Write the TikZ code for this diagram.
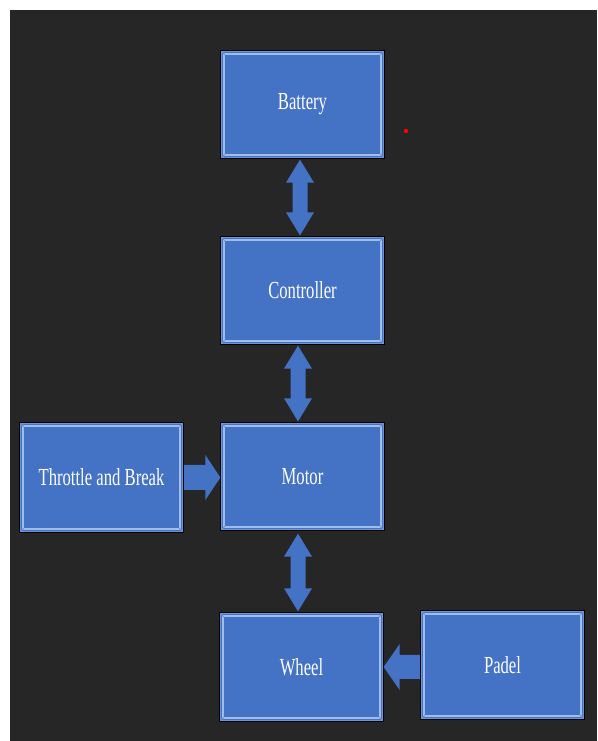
\documentclass[tikz,border=0pt]{standalone}
\usepackage{fontspec}
\newfontfamily\boxfont{Liberation Serif}[FakeStretch=0.68]
\usetikzlibrary{calc}
\definecolor{bgdark}{HTML}{262626}
\definecolor{boxblue}{HTML}{4472C4}
\definecolor{bevel}{HTML}{A9C8F0}
\definecolor{bevelmid}{HTML}{6F93D6}
\tikzset{
  blockbox/.style={rectangle, fill=boxblue, draw=black, line width=1.3pt,
    minimum width=163pt, minimum height=107pt, inner sep=0pt,
    text=white, font=\boxfont\fontsize{24.5}{28}\selectfont},
  bevelline/.style={draw=bevel, line width=2pt, opacity=0.9},
  bevelband/.style={draw=bevelmid, line width=1.2pt},
  arrowfill/.style={fill=boxblue}
}
\begin{document}
\begin{tikzpicture}[x=1pt,y=1pt]
\useasboundingbox (0,0) rectangle (597,741);
\fill[white] (0,0) rectangle (597,741);
\fill[bgdark] (10,0) rectangle (597,731);

\node[blockbox] (bat) at (302.5,636.5) {\phantom{B}};
\node[blockbox] (ctl) at (302.5,450.5) {\phantom{C}};
\node[blockbox] (mot) at (302.5,264.5) {\phantom{M}};
\node[blockbox, minimum height=109pt] (thr) at (101.5,263.5) {\phantom{T}};
\node[blockbox, minimum height=108pt] (whl) at (301.5,74) {\phantom{W}};
\node[blockbox, minimum height=108pt] (pad) at (502.5,76) {\phantom{P}};

\foreach \n in {bat,ctl,mot,thr,whl,pad}{
  \draw[bevelband] ($(\n.south west)+(1.2,1.2)$) rectangle ($(\n.north east)+(-1.2,-1.2)$);
  \draw[bevelline] ($(\n.south west)+(3.5,3.5)$) rectangle ($(\n.north east)+(-3.5,-3.5)$);
  \draw[bevelmid, line width=0.8pt] ($(\n.south west)+(0.8,0.8)$) -- ($(\n.south west)+(4.5,4.5)$);
  \draw[bevelmid, line width=0.8pt] ($(\n.south east)+(-0.8,0.8)$) -- ($(\n.south east)+(-4.5,4.5)$);
  \draw[bevelmid, line width=0.8pt] ($(\n.north west)+(0.8,-0.8)$) -- ($(\n.north west)+(4.5,-4.5)$);
  \draw[bevelmid, line width=0.8pt] ($(\n.north east)+(-0.8,-0.8)$) -- ($(\n.north east)+(-4.5,-4.5)$);
}

\node[text=white, font=\boxfont\fontsize{24.5}{28}\selectfont] (batt) at (bat.center) {Battery};
\node[text=white, font=\boxfont\fontsize{24.5}{28}\selectfont] (ctlt) at (ctl.center) {Controller};
\node[text=white, font=\boxfont\fontsize{24.5}{28}\selectfont] (mott) at (mot.center) {Motor};
\node[text=white, font=\boxfont\fontsize{24.5}{28}\selectfont] (thrt) at (thr.center) {Throttle and Break};
\node[text=white, font=\boxfont\fontsize{24.5}{28}\selectfont] (whlt) at (whl.center) {Wheel};
\node[text=white, font=\boxfont\fontsize{24.5}{28}\selectfont] (padt) at (pad.center) {Padel};

\coordinate (dot) at (406,610);
\fill[red] (dot) circle (2.2pt);

% vertical double arrows
\fill[arrowfill] let \p1=($(bat.south)+(-2.5,-1)$), \p2=($(ctl.north)+(-2.5,1)$) in
  (\x1,\y1) -- (\x1+14,\y1-23) -- (\x1+7.5,\y1-23) -- (\x1+7.5,\y2+23) -- (\x1+14,\y2+23)
  -- (\x1,\y2) -- (\x1-14,\y2+23) -- (\x1-7.5,\y2+23) -- (\x1-7.5,\y1-23) -- (\x1-14,\y1-23) -- cycle;
\fill[arrowfill] let \p1=($(ctl.south)+(-4.5,-1)$), \p2=($(mot.north)+(-4.5,1)$) in
  (\x1,\y1) -- (\x1+14,\y1-23) -- (\x1+7.5,\y1-23) -- (\x1+7.5,\y2+23) -- (\x1+14,\y2+23)
  -- (\x1,\y2) -- (\x1-14,\y2+23) -- (\x1-7.5,\y2+23) -- (\x1-7.5,\y1-23) -- (\x1-14,\y1-23) -- cycle;
\fill[arrowfill] let \p1=($(mot.south)+(-4.5,-3)$), \p2=($(whl.north)+(-3.5,1)$) in
  (\x1,\y1) -- (\x1+14,\y1-23) -- (\x1+7.5,\y1-23) -- (\x1+7.5,\y2+23) -- (\x1+14,\y2+23)
  -- (\x1,\y2) -- (\x1-14,\y2+23) -- (\x1-7.5,\y2+23) -- (\x1-7.5,\y1-23) -- (\x1-14,\y1-23) -- cycle;

% Throttle -> Motor
\fill[arrowfill] let \p1=($(thr.east)+(0.5,0)$), \p2=($(mot.west)+(0,0)$) in
  (\x1,\y1+12.5) -- (\x2-15,\y1+12.5) -- (\x2-15,\y1+22.5) -- (\x2,\y1)
  -- (\x2-15,\y1-22.5) -- (\x2-15,\y1-12.5) -- (\x1,\y1-12.5) -- cycle;

% Padel -> Wheel
\fill[arrowfill] let \p1=($(pad.west)+(-0.5,-2)$), \p2=($(whl.east)+(0,0)$) in
  (\x1,\y1+12) -- (\x2+16,\y1+12) -- (\x2+16,\y1+23) -- (\x2,\y1)
  -- (\x2+16,\y1-23) -- (\x2+16,\y1-12) -- (\x1,\y1-12) -- cycle;
\end{tikzpicture}
\end{document}
